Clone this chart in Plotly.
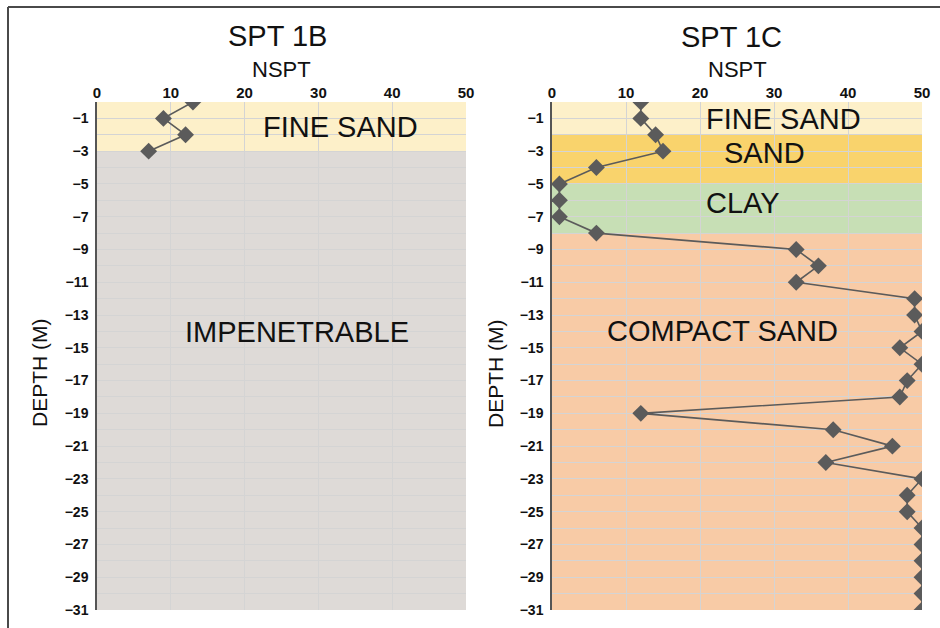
import plotly.graph_objects as go

# ---- data ----
depth_1b = [0, -1, -2, -3]
nspt_1b = [13, 9, 12, 7]

depth_1c = [0, -1, -2, -3, -4, -5, -6, -7, -8, -9, -10, -11, -12, -13, -14, -15,
            -16, -17, -18, -19, -20, -21, -22, -23, -24, -25, -26, -27, -28, -29, -30, -31]
nspt_1c = [12, 12, 14, 15, 6, 1, 1, 1, 6, 33, 36, 33, 49, 49, 50, 47,
           50, 48, 47, 12, 38, 46, 37, 50, 48, 48, 50, 50, 50, 50, 50, 50]

layers_1b_names = ["FINE SAND", "IMPENETRABLE"]
layers_1b_top = [0, -3]
layers_1b_bottom = [-3, -31]
layers_1b_colors = ["#FDF0C9", "#DEDAD7"]

layers_1c_names = ["FINE SAND", "SAND", "CLAY", "COMPACT SAND"]
layers_1c_top = [0, -2, -5, -8]
layers_1c_bottom = [-2, -5, -8, -31]
layers_1c_colors = ["#FDF0C9", "#F9D36C", "#C7DFB5", "#F8CBA6"]

titles = ["SPT 1B", "SPT 1C"]
x_title = "NSPT"
y_title = "DEPTH (M)"

W, H = 940, 628
FONT = "Liberation Sans, Arial, sans-serif"


def px(x):
    return x / W


def py(y):
    return 1 - y / H


fig = go.Figure()

line_col = "#5B5B5B"
fig.add_trace(go.Scatter(x=nspt_1b, y=depth_1b, mode="lines+markers", xaxis="x", yaxis="y",
                         line=dict(color=line_col, width=1.6),
                         marker=dict(symbol="diamond", size=13, color=line_col),
                         showlegend=False, cliponaxis=True))
fig.add_trace(go.Scatter(x=nspt_1c, y=depth_1c, mode="lines+markers", xaxis="x2", yaxis="y2",
                         line=dict(color=line_col, width=1.6),
                         marker=dict(symbol="diamond", size=13, color=line_col),
                         showlegend=False, cliponaxis=True))

shapes = []
for t, b, c in zip(layers_1b_top, layers_1b_bottom, layers_1b_colors):
    shapes.append(dict(type="rect", xref="x", yref="y", x0=0, x1=50, y0=b, y1=t,
                       fillcolor=c, line=dict(width=0), layer="below"))
for t, b, c in zip(layers_1c_top, layers_1c_bottom, layers_1c_colors):
    shapes.append(dict(type="rect", xref="x2", yref="y2", x0=0, x1=50, y0=b, y1=t,
                       fillcolor=c, line=dict(width=0), layer="below"))
# outer frame (left and top edges), kept inside the page
shapes.append(dict(type="line", xref="paper", yref="paper", x0=px(8), x1=px(8), y0=py(7), y1=0,
                   line=dict(color="#4A4A4A", width=2)))
shapes.append(dict(type="line", xref="paper", yref="paper", x0=px(8), x1=1, y0=py(7), y1=py(7),
                   line=dict(color="#4A4A4A", width=2)))

grid = "#D4D4D4"
ydom = [py(610), py(102)]
xaxis_common = dict(range=[0, 50], dtick=10, tick0=0, side="top", showgrid=True, gridcolor=grid,
                    gridwidth=1, zeroline=False, showline=False, ticks="", automargin=False,
                    tickfont=dict(family=FONT, size=15, color="#111", weight="bold"), fixedrange=True)
yaxis_common = dict(range=[-31, 0], dtick=2, tick0=-1, showgrid=True, gridcolor=grid, gridwidth=1,
                    zeroline=False, showline=True, linecolor="#555555", linewidth=1.5, ticks="",
                    automargin=False,
                    minor=dict(dtick=1, tick0=0, showgrid=True, gridcolor=grid, gridwidth=1),
                    tickfont=dict(family=FONT, size=14, color="#111", weight="bold"), domain=ydom,
                    fixedrange=True, ticklabelstandoff=4)

fig.update_layout(
    width=W, height=H, margin=dict(l=0, r=0, t=0, b=0, pad=0),
    paper_bgcolor="white", plot_bgcolor="white",
    xaxis=dict(xaxis_common, domain=[px(97), px(466)], anchor="y"),
    yaxis=dict(yaxis_common, anchor="x"),
    xaxis2=dict(xaxis_common, domain=[px(552), px(922)], anchor="y2"),
    yaxis2=dict(yaxis_common, anchor="x2"),
    shapes=shapes,
    showlegend=False,
)

ann = []
def text(x, y, s, size, angle=0):
    ann.append(dict(x=px(x), y=py(y), xref="paper", yref="paper", text=s, showarrow=False,
                    textangle=angle, xanchor="center", yanchor="middle",
                    font=dict(family=FONT, size=size, color="#111")))

text(277, 36, titles[0], 29)
text(731, 37, titles[1], 29)
text(281, 70, x_title, 22)
text(737, 70, x_title, 22)
text(39, 373, y_title, 21, -90)
text(495, 373, y_title, 21, -90)

label_pos_1b = [(340, 127), (297, 332)]
for name, (x, y) in zip(layers_1b_names, label_pos_1b):
    text(x, y, name, 29)
label_pos_1c = [(783, 119), (764, 153), (743, 203), (722, 331)]
for name, (x, y) in zip(layers_1c_names, label_pos_1c):
    text(x, y, name, 29)

fig.update_layout(annotations=ann)
fig.write_html("out.html", config={"displayModeBar": False},
               post_script="document.body.style.margin='0';document.body.style.overflow='hidden';")
